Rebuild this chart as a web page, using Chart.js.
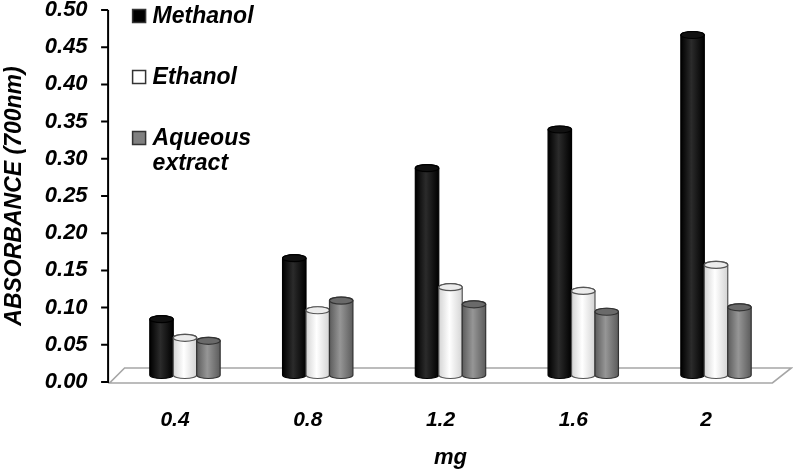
<!DOCTYPE html>
<html>
<head>
<meta charset="utf-8">
<script src="https://cdn.jsdelivr.net/npm/chart.js@4/dist/chart.umd.min.js"></script>
<style>
  body { margin: 0; background: #fff; }
  #wrap { width: 793px; height: 471px; position: relative; }
</style>
</head>
<body>
<div id="wrap"><canvas id="chart"></canvas></div>
<script>
// -------- Data --------
const categories = ['0.4', '0.8', '1.2', '1.6', '2'];
const methanol = [0.075, 0.157, 0.278, 0.330, 0.457];
const ethanol  = [0.050, 0.087, 0.118, 0.113, 0.148];
const aqueous  = [0.046, 0.100, 0.095, 0.085, 0.091];
const yMin = 0, yMax = 0.5, yStep = 0.05;

const FONT = "Arial, 'Liberation Sans', sans-serif";

// cylinder look per series
const looks = [
    { edge: '#000', mid: '#2b2b2b', top: '#111', line: '#000' },
    { edge: '#d4d4d4', mid: '#ffffff', top: '#ececec', line: '#555' },
    { edge: '#5c5c5c', mid: '#969696', top: '#6a6a6a', line: '#333' }
];

function cylinder(ctx, cx, top, bottom, w, look) {
    const rx = w / 2, ry = 3.5, l = cx - rx, r = cx + rx;
    const g = ctx.createLinearGradient(l, 0, r, 0);
    g.addColorStop(0, look.edge);
    g.addColorStop(0.45, look.mid);
    g.addColorStop(1, look.edge);
    ctx.beginPath();
    ctx.moveTo(l, top);
    ctx.lineTo(l, bottom);
    ctx.ellipse(cx, bottom, rx, ry, 0, Math.PI, 0, true);
    ctx.lineTo(r, top);
    ctx.ellipse(cx, top, rx, ry, 0, 0, Math.PI, true);
    ctx.closePath();
    ctx.fillStyle = g;
    ctx.fill();
    ctx.lineWidth = 1.2;
    ctx.strokeStyle = look.line;
    ctx.stroke();
    ctx.beginPath();
    ctx.ellipse(cx, top, rx, ry, 0, 0, Math.PI * 2);
    ctx.fillStyle = look.top;
    ctx.fill();
    ctx.stroke();
}

// -------- 3D-ish drawing plugin --------
const cylPlugin = {
    id: 'cyl',
    beforeDatasetDraw() { return false; },
    beforeDatasetsDraw(chart) {
        const ctx = chart.ctx, a = chart.chartArea, ys = chart.scales.y;
        const y0 = ys.getPixelForValue(0) + 1;
        // floor
        ctx.save();
        ctx.beginPath();
        ctx.moveTo(a.left - 9, y0);
        ctx.lineTo(a.right - 10, y0);
        ctx.lineTo(a.right + 9, y0 - 15);
        ctx.lineTo(a.left + 6, y0 - 15);
        ctx.closePath();
        ctx.fillStyle = '#fff';
        ctx.fill();
        ctx.strokeStyle = '#a6a6a6';
        ctx.lineWidth = 1.6;
        ctx.stroke();
        // y axis line + ticks
        const ax = a.left - 10.5;
        ctx.strokeStyle = '#000';
        ctx.lineWidth = 2;
        ctx.beginPath();
        ctx.moveTo(ax, ys.getPixelForValue(yMax));
        ctx.lineTo(ax, y0);
        ys.ticks.forEach(t => {
            const p = ys.getPixelForValue(t.value);
            ctx.moveTo(ax - 7, p);
            ctx.lineTo(ax, p);
        });
        ctx.stroke();
        ctx.restore();
    },
    afterDatasetsDraw(chart) {
        const ctx = chart.ctx;
        ctx.save();
        categories.forEach((c, i) => {
            chart.data.datasets.forEach((ds, d) => {
                const el = chart.getDatasetMeta(d).data[i];
                cylinder(ctx, el.x, el.y - 7, el.base - 7, el.width, looks[d]);
            });
        });
        ctx.restore();
    },
    afterDraw(chart) {
        // legend, top-left inside the plot
        const ctx = chart.ctx, a = chart.chartArea;
        ctx.save();
        ctx.font = `italic bold 23px ${FONT}`;
        ctx.textBaseline = 'middle';
        chart.data.datasets.forEach((ds, d) => {
            const bx = a.left + 14, cy = 16 + d * 61;
            ctx.fillStyle = ds.backgroundColor;
            ctx.fillRect(bx, cy - 6.5, 13, 13);
            ctx.strokeStyle = '#333';
            ctx.lineWidth = 1.5;
            ctx.strokeRect(bx, cy - 6.5, 13, 13);
            ctx.fillStyle = '#000';
            const words = ds.label.split(' ');
            words.forEach((w, k) => ctx.fillText(w, bx + 20, cy + 1 + k * 25));
        });
        ctx.restore();
    }
};

new Chart(document.getElementById('chart'), {
    type: 'bar',
    data: {
        labels: categories,
        datasets: [
            { label: 'Methanol', data: methanol, backgroundColor: '#000000' },
            { label: 'Ethanol', data: ethanol, backgroundColor: '#ffffff' },
            { label: 'Aqueous extract', data: aqueous, backgroundColor: '#808080' }
        ]
    },
    options: {
        responsive: true,
        maintainAspectRatio: false,
        animation: false,
        layout: { padding: { top: 10, right: 10.6, left: 0, bottom: 0 } },
        datasets: { bar: { categoryPercentage: 0.53, barPercentage: 1.0 } },
        plugins: { legend: { display: false }, tooltip: { enabled: false } },
        scales: {
            x: {
                grid: { display: false, drawTicks: false },
                border: { display: false },
                ticks: {
                    padding: 26,
                    labelOffset: -10,
                    color: '#000',
                    font: { family: FONT, size: 21, style: 'italic', weight: 'bold' }
                },
                title: {
                    display: true,
                    text: 'mg',
                    color: '#000',
                    padding: { top: 0, bottom: 0 },
                    font: { family: FONT, size: 22, style: 'italic', weight: 'bold' }
                },
                afterFit(s) { s.height = 89; s.paddingLeft = 0; s.paddingRight = 0; }
            },
            y: {
                min: yMin,
                max: yMax,
                grid: { display: false, drawTicks: false },
                border: { display: false },
                ticks: {
                    stepSize: yStep,
                    padding: 31,
                    color: '#000',
                    font: { family: FONT, size: 22, style: 'italic', weight: 'bold' },
                    callback: v => Number(v).toFixed(2)
                },
                title: {
                    display: true,
                    text: 'ABSORBANCE (700nm)',
                    color: '#000',
                    padding: { top: 1, bottom: 0 },
                    font: { family: FONT, size: 23, style: 'italic', weight: 'bold' }
                },
                afterFit(s) { s.width = 118.6; s.paddingTop = 0; s.paddingBottom = 0; }
            }
        }
    },
    plugins: [cylPlugin]
});
</script>
</body>
</html>
